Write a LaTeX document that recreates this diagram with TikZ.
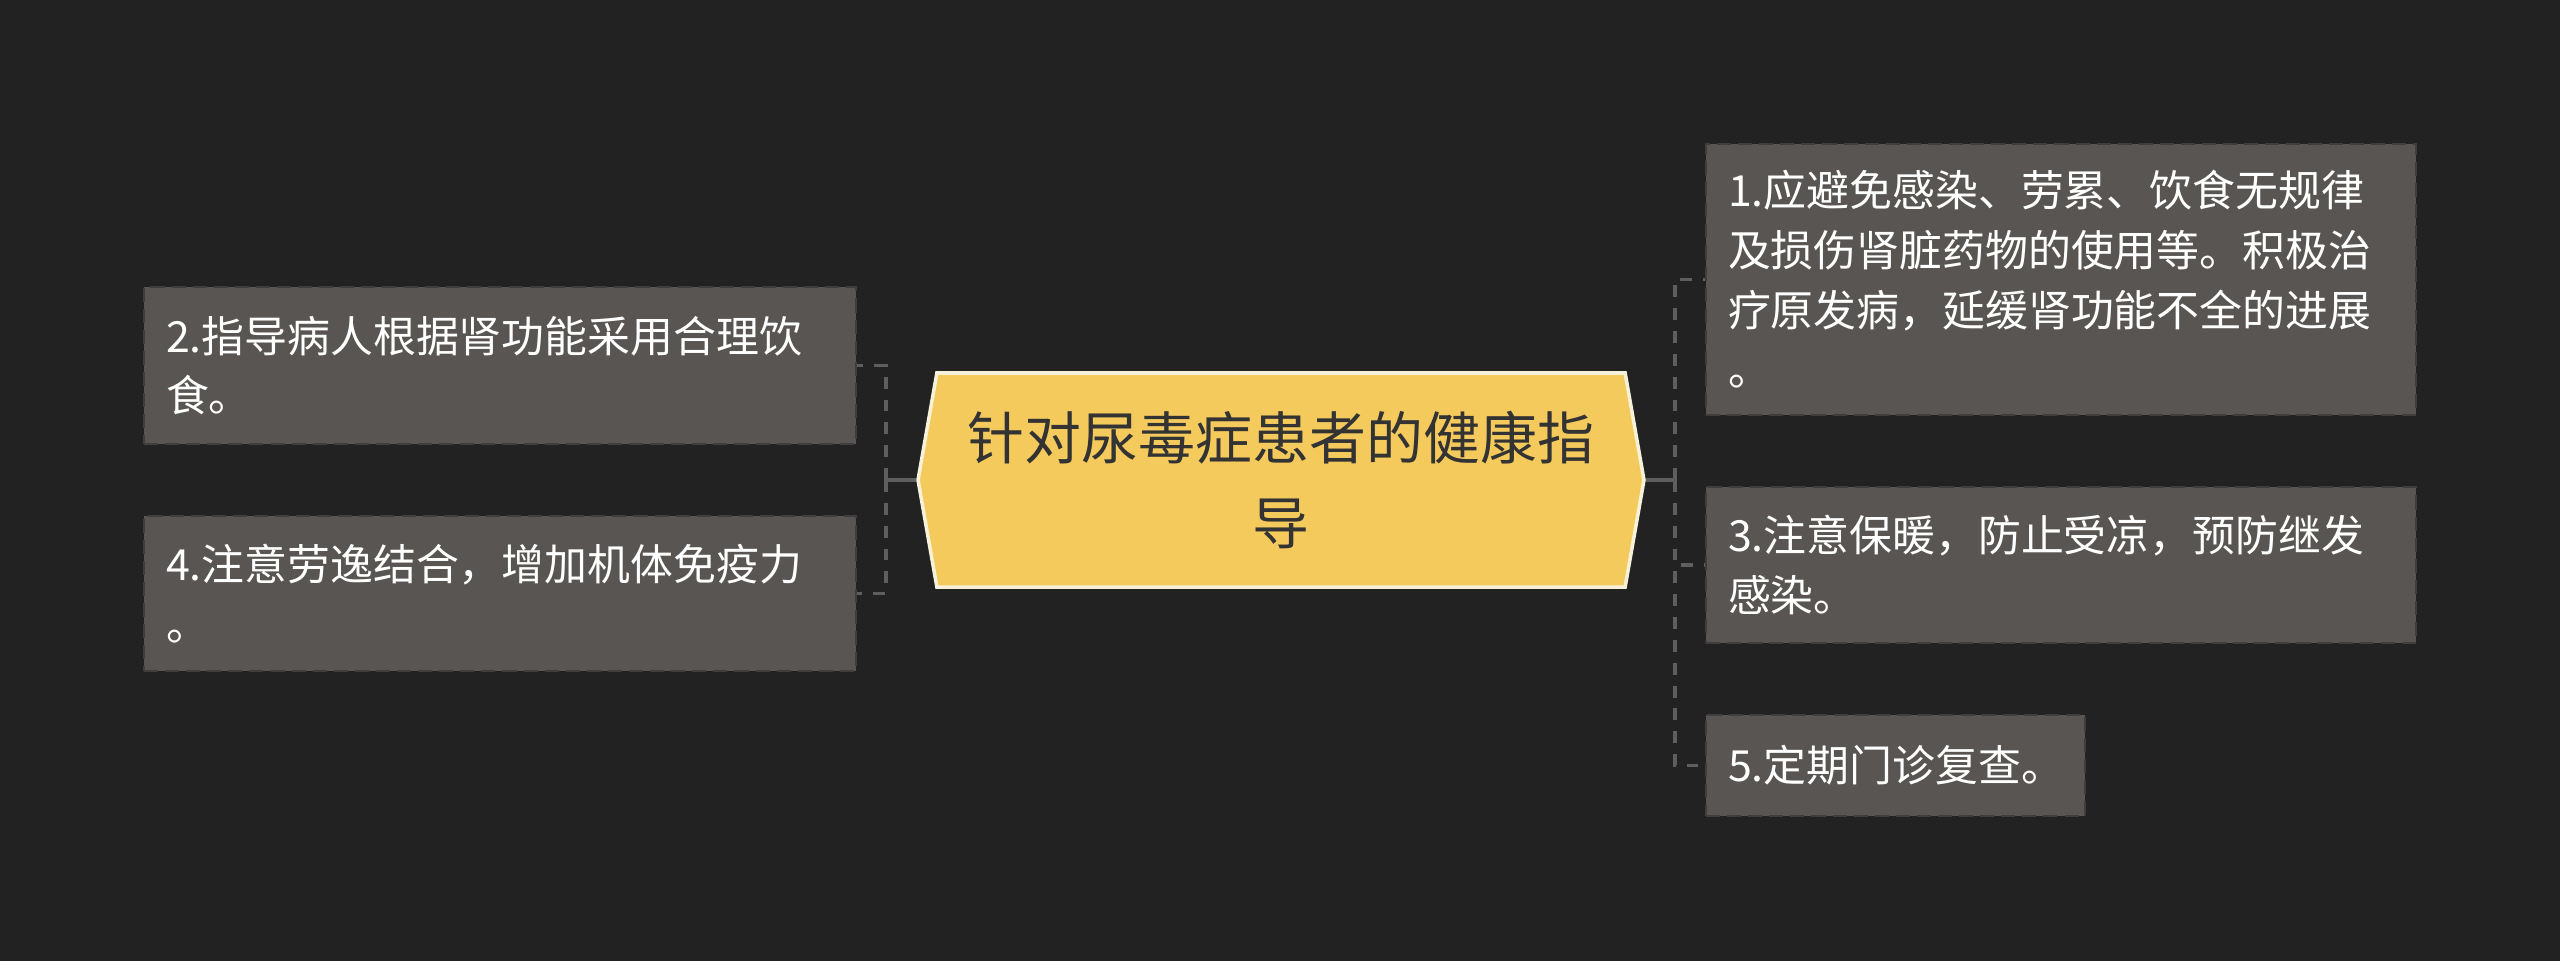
\documentclass[tikz,border=0pt]{standalone}
\usepackage{fontspec}
\usetikzlibrary{shapes.symbols}
\newfontfamily\cjk{Noto Sans CJK SC}
\definecolor{bgcol}{HTML}{222222}
\definecolor{leaffill}{HTML}{595552}
\definecolor{leafedge}{HTML}{403E3C}
\definecolor{topicfill}{HTML}{F4CA5D}
\definecolor{topicedge}{HTML}{F6F2DA}
\definecolor{linkcol}{HTML}{5E5E5E}
\begin{document}
\begin{tikzpicture}
    [topic/.style={signal,signal to=west and east,signal pointer angle=160,
       fill=topicfill,draw=topicedge,line width=1pt,inner sep=0pt,
       minimum width=7.26cm,minimum height=2.14cm,align=center,
       text=black!80,font=\cjk\fontsize{16.2pt}{24.2pt}\selectfont},
     leaf/.style={rectangle,fill=leaffill,draw=leafedge,line width=0.8pt,
       dash pattern=on 4pt off 2pt,inner xsep=0.22cm,inner ysep=0pt,
       align=left,text=white,font=\cjk\fontsize{12.2pt}{17pt}\selectfont},
     stub/.style={draw=linkcol,line width=1pt},
     link/.style={draw=linkcol,line width=1pt,dash pattern=on 3.4pt off 3.1pt}]

    \useasboundingbox (0,0) rectangle (25.6,9.6);
    \fill [bgcol] (-0.1,-0.1) rectangle (25.7,9.7);

    % central topic:
    \node (c) at (12.81, 4.80) [topic] {针对尿毒症患者的健康指\\导};

    % left leaves:
    \node (b2) at (5.00, 5.945) [leaf,text width=6.68cm,minimum height=1.57cm]
      {2.指导病人根据肾功能采用合理饮\\食。};
    \node (b4) at (5.00, 3.665) [leaf,text width=6.68cm,minimum height=1.55cm]
      {4.注意劳逸结合，增加机体免疫力\\。};

    % right leaves:
    \node (b1) at (20.61, 6.805) [leaf,text width=6.66cm,minimum height=2.71cm]
      {1.应避免感染、劳累、饮食无规律\\及损伤肾脏药物的使用等。积极治\\疗原发病，延缓肾功能不全的进展\\。};
    \node (b3) at (20.61, 3.95) [leaf,text width=6.66cm,minimum height=1.56cm]
      {3.注意保暖，防止受凉，预防继发\\感染。};
    \node (b5) at (18.955, 1.945) [leaf,text width=3.35cm,minimum height=1.01cm]
      {5.定期门诊复查。};

    % junctions:
    \coordinate (lj) at (8.86, 4.80);
    \coordinate (rj) at (16.75, 4.80);

    % connect nodes:
    \draw [stub] (c.west) -- (lj);
    \draw [link] (lj) |- (b2.east);
    \draw [link] (lj) |- (b4.east);
    \draw [stub] (c.east) -- (rj);
    \draw [link] (rj) |- (b1.west);
    \draw [link] (rj) |- (b3.west);
    \draw [link] (rj) |- (b5.west);

  \end{tikzpicture}
\end{document}
